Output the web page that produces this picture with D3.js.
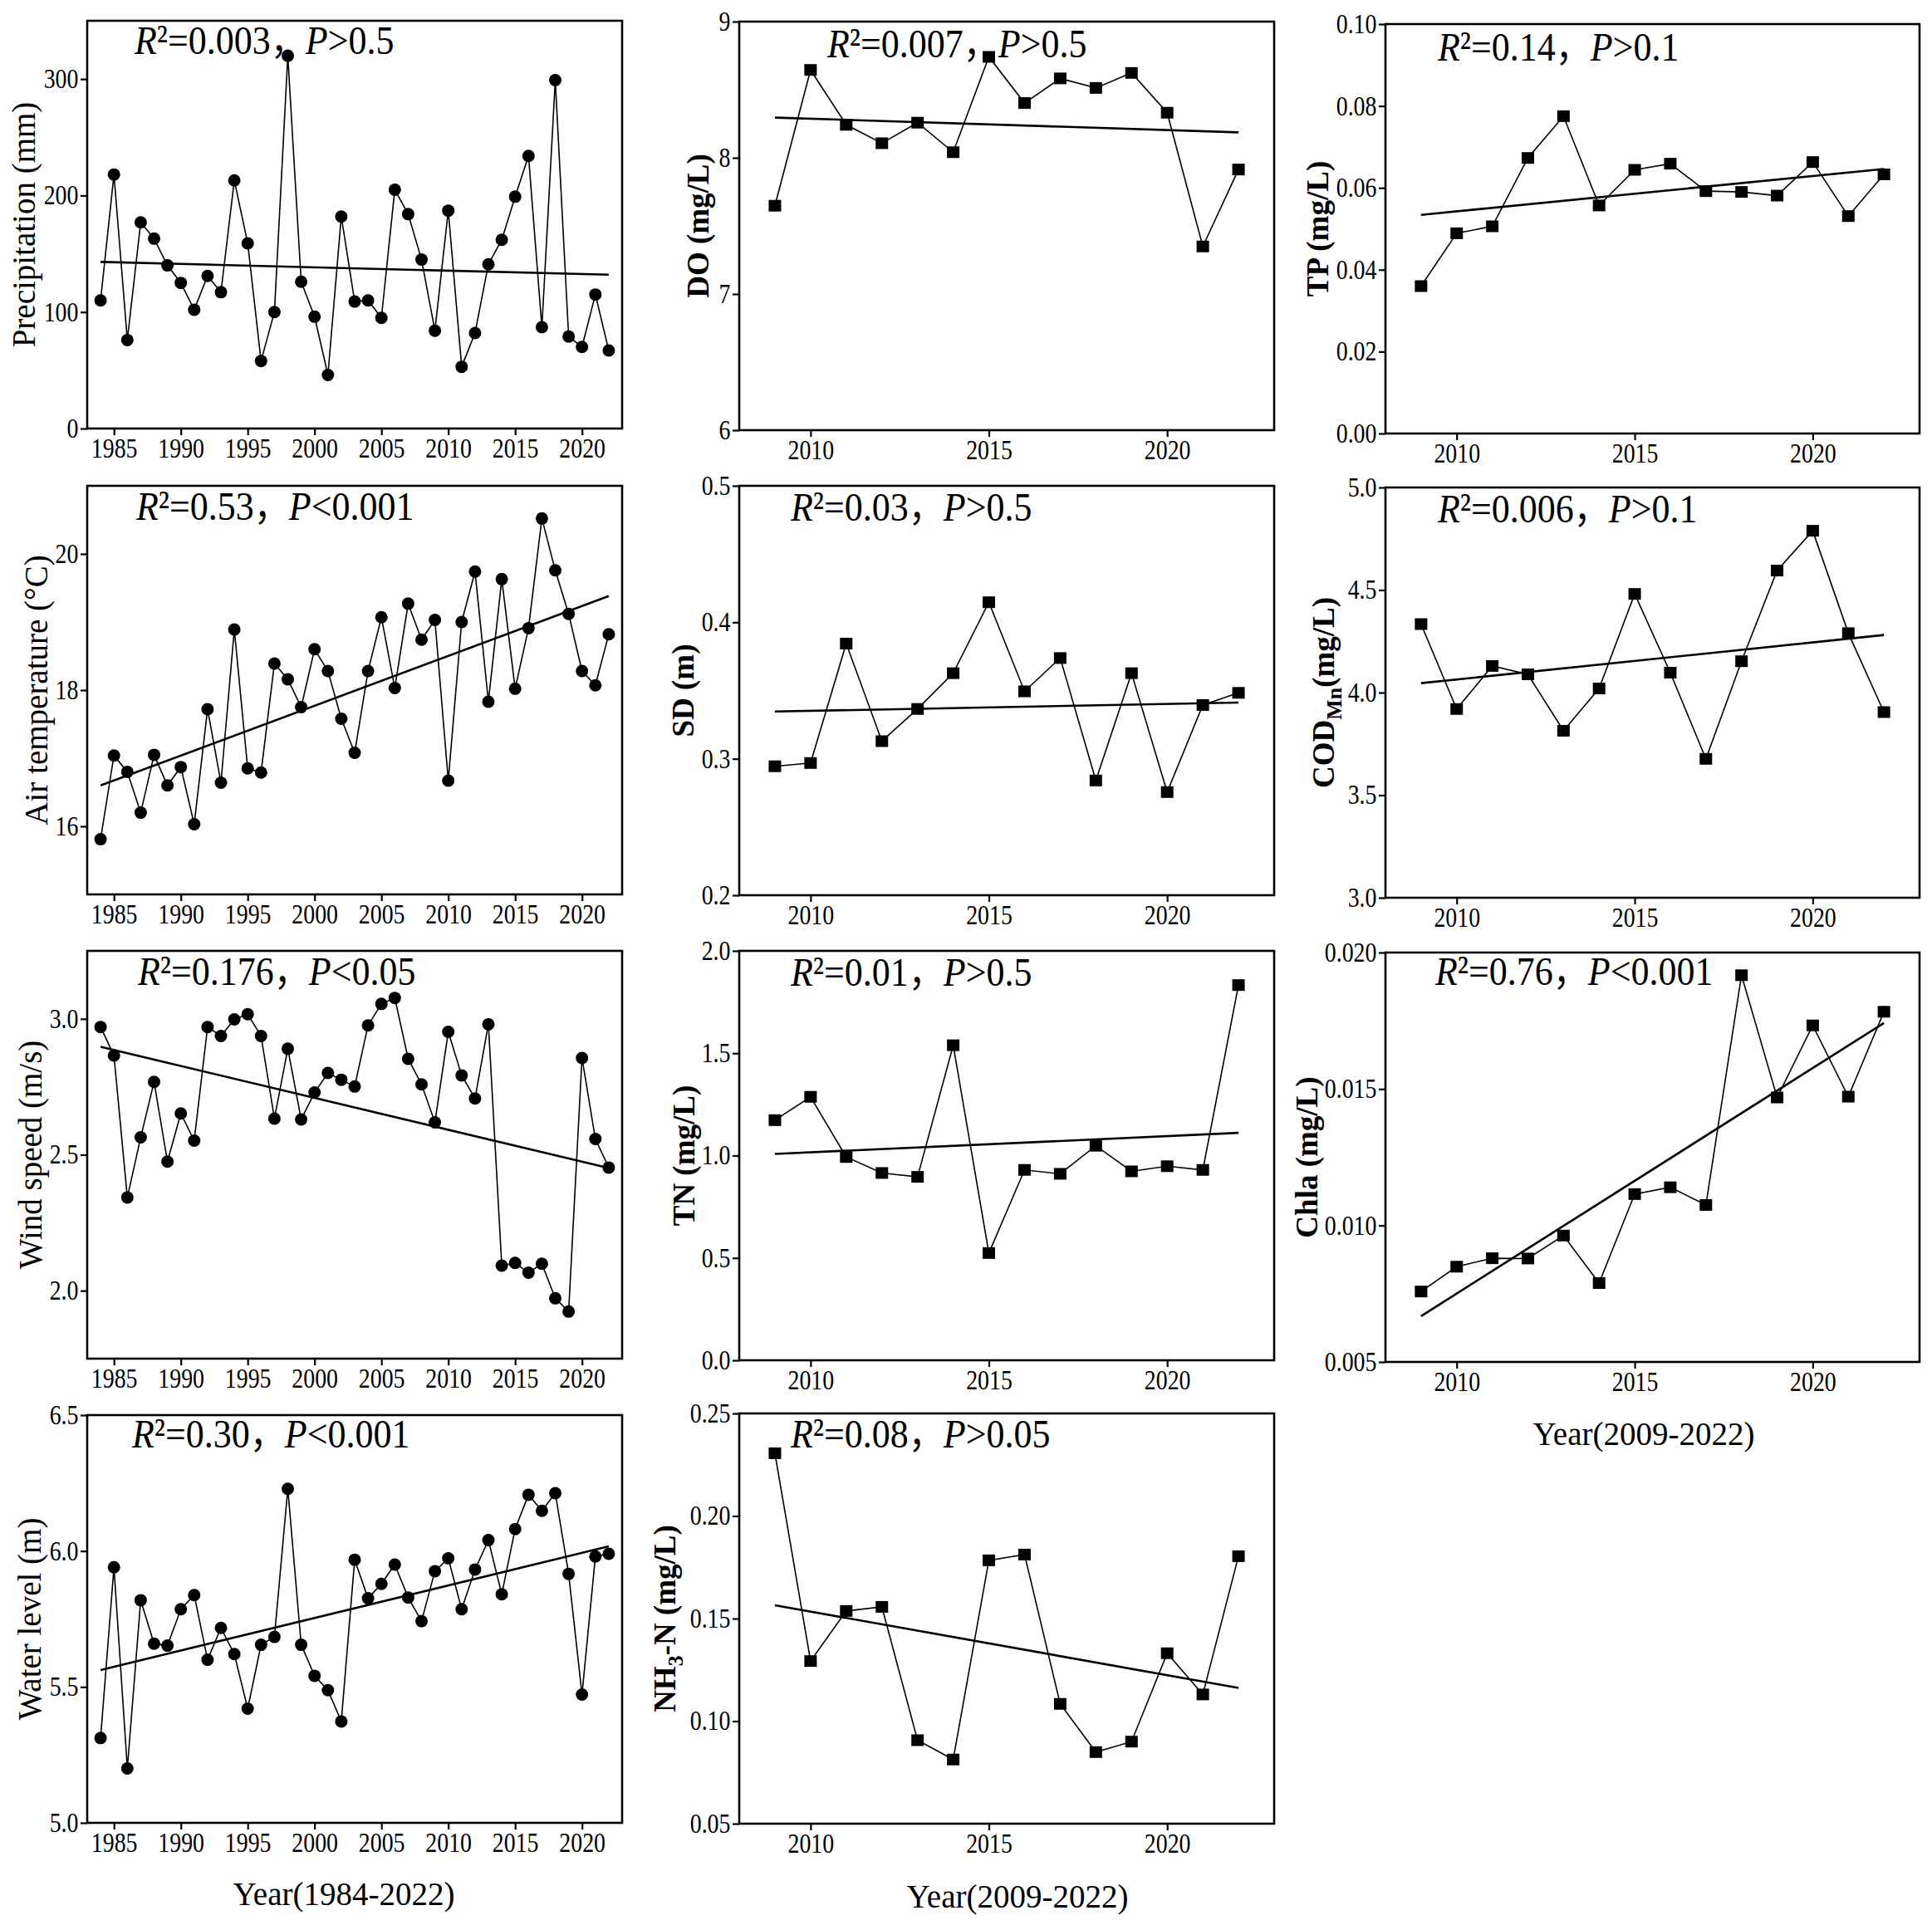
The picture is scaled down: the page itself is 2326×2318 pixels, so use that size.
<!DOCTYPE html>
<html>
<head>
<meta charset="utf-8">
<script src="https://cdn.jsdelivr.net/npm/d3@7/dist/d3.min.js"></script>
<style>
  html, body { margin: 0; padding: 0; background: #fff; }
  svg { display: block; }
  text { font-family: "Liberation Serif", "Times New Roman", serif; fill: #000; }
</style>
</head>
<body>
<svg id="chart" width="2326" height="2318"></svg>
<script>
// ---------------- DATA ----------------
const yearsLong = [1984,1985,1986,1987,1988,1989,1990,1991,1992,1993,1994,1995,1996,1997,1998,1999,2000,2001,2002,2003,2004,2005,2006,2007,2008,2009,2010,2011,2012,2013,2014,2015,2016,2017,2018,2019,2020,2021,2022];
const yearsShort = [2009,2010,2011,2012,2013,2014,2015,2016,2017,2018,2019,2020,2021,2022];

const precipitation = [110,218,76,177,163,140,125,102,131,117,213,159,58,100,320,126,96,46,182,109,110,95,205,184,145,84,187,53,82,141,162,199,234,87,299,79,70,115,67];
const airTemperature = [15.81,17.04,16.80,16.20,17.05,16.60,16.87,16.03,17.72,16.64,18.89,16.85,16.79,18.39,18.16,17.75,18.60,18.28,17.58,17.08,18.28,19.07,18.03,19.27,18.74,19.03,16.67,19.00,19.74,17.83,19.63,18.02,18.91,20.52,19.76,19.12,18.28,18.07,18.82];
const windSpeed = [2.970,2.865,2.343,2.564,2.768,2.475,2.652,2.552,2.970,2.937,2.998,3.017,2.937,2.633,2.890,2.630,2.729,2.801,2.776,2.751,2.976,3.055,3.077,2.853,2.759,2.619,2.952,2.792,2.707,2.980,2.092,2.102,2.066,2.099,1.972,1.923,2.856,2.558,2.453];
const waterLevel = [5.312,5.940,5.200,5.819,5.659,5.652,5.786,5.838,5.600,5.717,5.621,5.420,5.655,5.684,6.229,5.655,5.541,5.488,5.373,5.968,5.826,5.879,5.950,5.829,5.742,5.926,5.973,5.786,5.932,6.040,5.841,6.081,6.207,6.148,6.213,5.916,5.472,5.980,5.990];

const doValues   = [7.648,8.645,8.242,8.107,8.258,8.041,8.741,8.402,8.583,8.513,8.623,8.331,7.349,7.914];
const sdValues   = [0.2945,0.2969,0.3844,0.3129,0.3365,0.3627,0.4147,0.3494,0.3738,0.2841,0.3627,0.2756,0.3394,0.3483];
const tnValues   = [1.173,1.287,0.993,0.915,0.896,1.539,0.524,0.930,0.911,1.048,0.923,0.948,0.930,1.833];
const nh3nValues = [0.2306,0.1293,0.1537,0.1557,0.0907,0.0813,0.1784,0.1812,0.1084,0.0849,0.0900,0.1331,0.1130,0.1804];
const tpValues   = [0.0360,0.0489,0.0506,0.0673,0.0775,0.0557,0.0644,0.0659,0.0592,0.0590,0.0581,0.0663,0.0531,0.0633];
const codMnValues= [4.334,3.920,4.130,4.089,3.814,4.020,4.481,4.097,3.677,4.153,4.595,4.789,4.290,3.905];
const chlaValues = [0.00758,0.00849,0.00880,0.00879,0.00963,0.00789,0.01115,0.01140,0.01075,0.01917,0.01469,0.01733,0.01472,0.01783];

// fitted trend line values at first and last year
const precipitationTrend = [143, 132];
const airTemperatureTrend = [16.60, 19.38];
const windSpeedTrend = [2.897, 2.451];
const waterLevelTrend = [5.562, 6.017];
const doTrend = [8.295, 8.187];
const sdTrend = [0.3346, 0.3412];
const tnTrend = [1.008, 1.111];
const nh3nTrend = [0.1565, 0.1162];
const tpTrend = [0.0534, 0.0646];
const codMnTrend = [4.046, 4.281];
const chlaTrend = [0.00668, 0.01742];

// axis domains and ticks
const xDomainLong = [1983, 2023];
const xDomainShort = [2008, 2023];
const xTicksLong = [1985,1990,1995,2000,2005,2010,2015,2020];
const xTicksShort = [2010,2015,2020];

const precipitationTicks = [0,100,200,300];
const airTemperatureTicks = [16,18,20];
const windSpeedTicks = [2.0,2.5,3.0];
const waterLevelTicks = [5.0,5.5,6.0,6.5];
const doTicks = [6,7,8,9];
const sdTicks = [0.2,0.3,0.4,0.5];
const tnTicks = [0.0,0.5,1.0,1.5,2.0];
const nh3nTicks = [0.05,0.10,0.15,0.20,0.25];
const tpTicks = [0.00,0.02,0.04,0.06,0.08,0.10];
const codMnTicks = [3.0,3.5,4.0,4.5,5.0];
const chlaTicks = [0.005,0.010,0.015,0.020];

// statistics labels: [R² value, P relation]
const statR2 = ["0.003","0.53","0.176","0.30","0.007","0.03","0.01","0.08","0.14","0.006","0.76"];
const statP  = [">0.5","<0.001","<0.05","<0.001",">0.5",">0.5",">0.5",">0.05",">0.1",">0.1","<0.001"];

// ---------------- LAYOUT (positions / styles) ----------------
const panels = [
  { x:105,  y:25,   w:644, h:491, years:yearsLong,  values:precipitation,  trend:precipitationTrend,  xd:xDomainLong,  xt:xTicksLong,  yd:[0,350],      yt:precipitationTicks,  fmt:"d",   marker:"circle", title:[{t:"Precipitation (mm)"}], bold:false, tdx:-77, sx:57, sy:40 },
  { x:105,  y:585,  w:644, h:492, years:yearsLong,  values:airTemperature, trend:airTemperatureTrend, xd:xDomainLong,  xt:xTicksLong,  yd:[15,21],      yt:airTemperatureTicks, fmt:"d",   marker:"circle", title:[{t:"Air temperature (°C)"}], bold:false, tdx:-62, sx:59, sy:41 },
  { x:105,  y:1145, w:644, h:491, years:yearsLong,  values:windSpeed,      trend:windSpeedTrend,      xd:xDomainLong,  xt:xTicksLong,  yd:[1.75,3.25],  yt:windSpeedTicks,      fmt:".1f", marker:"circle", title:[{t:"Wind speed (m/s)"}], bold:false, tdx:-69, sx:61, sy:41 },
  { x:105,  y:1704, w:644, h:491, years:yearsLong,  values:waterLevel,     trend:waterLevelTrend,     xd:xDomainLong,  xt:xTicksLong,  yd:[5.0,6.5],    yt:waterLevelTicks,     fmt:".1f", marker:"circle", title:[{t:"Water level (m)"}], bold:false, tdx:-70, sx:54, sy:39 },
  { x:890,  y:26,   w:644, h:492, years:yearsShort, values:doValues,       trend:doTrend,             xd:xDomainShort, xt:xTicksShort, yd:[6,9],        yt:doTicks,             fmt:"d",   marker:"square", title:[{t:"DO (mg/L)"}], bold:true, tdx:-50, sx:106, sy:43 },
  { x:890,  y:585,  w:644, h:493, years:yearsShort, values:sdValues,       trend:sdTrend,             xd:xDomainShort, xt:xTicksShort, yd:[0.2,0.5],    yt:sdTicks,             fmt:".1f", marker:"square", title:[{t:"SD (m)"}], bold:true, tdx:-68, sx:62, sy:42 },
  { x:890,  y:1145, w:644, h:493, years:yearsShort, values:tnValues,       trend:tnTrend,             xd:xDomainShort, xt:xTicksShort, yd:[0,2],        yt:tnTicks,             fmt:".1f", marker:"square", title:[{t:"TN (mg/L)"}], bold:true, tdx:-67, sx:62, sy:42 },
  { x:890,  y:1702, w:644, h:494, years:yearsShort, values:nh3nValues,     trend:nh3nTrend,           xd:xDomainShort, xt:xTicksShort, yd:[0.05,0.25],  yt:nh3nTicks,           fmt:".2f", marker:"square", title:[{t:"NH"},{t:"3",sub:true},{t:"-N (mg/L)"}], bold:true, tdx:-90, sx:62, sy:41 },
  { x:1668, y:29,   w:643, h:493, years:yearsShort, values:tpValues,       trend:tpTrend,             xd:xDomainShort, xt:xTicksShort, yd:[0,0.10],     yt:tpTicks,             fmt:".2f", marker:"square", title:[{t:"TP (mg/L)"}], bold:true, tdx:-82, sx:63, sy:44 },
  { x:1668, y:587,  w:643, h:494, years:yearsShort, values:codMnValues,    trend:codMnTrend,          xd:xDomainShort, xt:xTicksShort, yd:[3,5],        yt:codMnTicks,          fmt:".1f", marker:"square", title:[{t:"COD"},{t:"Mn",sub:true},{t:"(mg/L)"}], bold:true, tdx:-75, sx:63, sy:42 },
  { x:1668, y:1147, w:643, h:493, years:yearsShort, values:chlaValues,     trend:chlaTrend,           xd:xDomainShort, xt:xTicksShort, yd:[0.005,0.020],yt:chlaTicks,           fmt:".3f", marker:"square", title:[{t:"Chla (mg/L)"}], bold:true, tdx:-95, sx:60, sy:39 }
];

const xTitles = [
  { text:"Year(1984-2022)", x:414,  y:2294 },
  { text:"Year(2009-2022)", x:1225, y:2297 },
  { text:"Year(2009-2022)", x:1979, y:1740 }
];

const svg = d3.select("#chart");
svg.append("rect").attr("width",2326).attr("height",2318).attr("fill","#fff");

panels.forEach((p, i) => {
  const g = svg.append("g").attr("transform", `translate(${p.x},${p.y})`);
  const xs = d3.scaleLinear().domain(p.xd).range([0, p.w]);
  const ys = d3.scaleLinear().domain(p.yd).range([p.h, 0]);

  // axes
  const xAxis = d3.axisBottom(xs).tickValues(p.xt).tickFormat(d3.format("d")).tickSize(8).tickSizeOuter(0).tickPadding(2);
  const yAxis = d3.axisLeft(ys).tickValues(p.yt).tickFormat(d3.format(p.fmt)).tickSize(8).tickSizeOuter(0).tickPadding(3);
  const gx = g.append("g").attr("transform", `translate(0,${p.h})`).call(xAxis);
  const gy = g.append("g").call(yAxis);
  [gx, gy].forEach(a => {
    a.attr("font-family", null).attr("font-size", null);
    a.select(".domain").remove();
    a.selectAll(".tick line").attr("stroke","#000").attr("stroke-width",2.2);
    a.selectAll(".tick text").attr("font-size",29).attr("fill","#000")
      .attr("transform","scale(0.96,1.13)");
  });

  // frame
  g.append("rect").attr("x",0).attr("y",0).attr("width",p.w).attr("height",p.h)
    .attr("fill","none").attr("stroke","#000").attr("stroke-width",2.6);

  const pts = p.years.map((yr, k) => [yr, p.values[k]]);
  const line = d3.line().x(d => xs(d[0])).y(d => ys(d[1]));

  // trend line
  const tr = [[p.years[0], p.trend[0]], [p.years[p.years.length-1], p.trend[1]]];
  g.append("path").attr("d", line(tr)).attr("fill","none").attr("stroke","#000").attr("stroke-width",2.6);

  // data line
  g.append("path").attr("d", line(pts)).attr("fill","none").attr("stroke","#000").attr("stroke-width",1.6);

  // markers
  if (p.marker === "circle") {
    g.selectAll("circle.m").data(pts).enter().append("circle")
      .attr("class","m").attr("cx", d => xs(d[0])).attr("cy", d => ys(d[1])).attr("r", 7.5).attr("fill","#000");
  } else {
    g.selectAll("rect.m").data(pts).enter().append("rect")
      .attr("class","m").attr("x", d => xs(d[0]) - 7.5).attr("y", d => ys(d[1]) - 7).attr("width", 15).attr("height", 14).attr("fill","#000");
  }

  // statistic annotation
  const st = g.append("text").attr("transform", `translate(${p.sx},${p.sy}) scale(1,1.12)`).attr("font-size", 44);
  st.append("tspan").attr("font-style","italic").text("R");
  st.append("tspan").text("²=" + statR2[i]);
  st.append("tspan").attr("font-family","'Noto Sans CJK SC', sans-serif").attr("font-size",42).text("，");
  st.append("tspan").attr("font-style","italic").text("P");
  st.append("tspan").text(statP[i]);

  // y title
  const tt = g.append("text")
    .attr("transform", `translate(${p.tdx},${p.h/2}) rotate(-90)`)
    .attr("text-anchor","middle").attr("dy","0.35em")
    .attr("font-size", p.bold ? 37 : 39)
    .attr("font-weight", p.bold ? "bold" : "normal");
  p.title.forEach(part => {
    const s = tt.append("tspan").text(part.t);
    if (part.sub) s.attr("font-size", 26).attr("dy", "0.35em");
    else if (tt.selectAll("tspan").size() > 1) s.attr("dy", "-0.24em");
  });
});

xTitles.forEach(t => {
  svg.append("text").attr("x", t.x).attr("y", t.y).attr("text-anchor","middle")
    .attr("font-size", 39).text(t.text);
});
</script>
</body>
</html>
